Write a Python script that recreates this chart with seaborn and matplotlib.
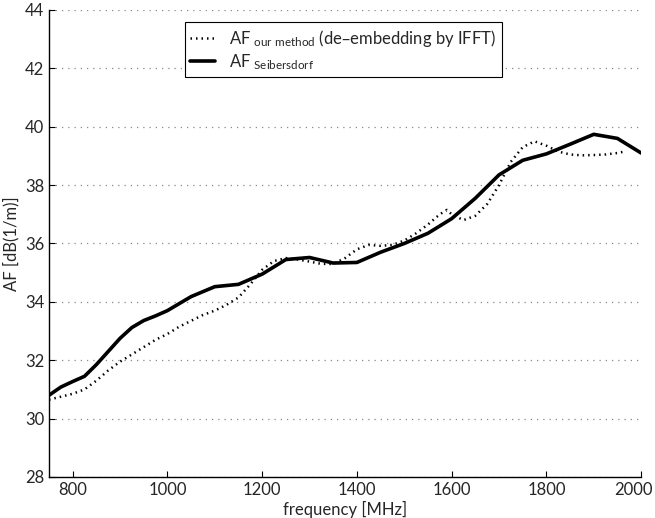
import numpy as np
import pandas as pd
import matplotlib
matplotlib.use('Agg')
import matplotlib.pyplot as plt
import matplotlib.transforms as mtransforms
import seaborn as sns

# data
freq_ifft = [750, 775, 800, 825, 850, 875, 900, 925, 950, 975, 1000, 1025, 1050, 1075,
             1100, 1125, 1150, 1175, 1200, 1225, 1250, 1275, 1300, 1325, 1350, 1375,
             1400, 1425, 1450, 1475, 1500, 1525, 1550, 1575, 1590, 1600, 1625, 1650,
             1675, 1700, 1725, 1750, 1775, 1800, 1825, 1850, 1875, 1900, 1925, 1950, 1965]
af_ifft = [30.65, 30.75, 30.85, 31.0, 31.3, 31.65, 31.95, 32.2, 32.45, 32.7, 32.9, 33.15,
           33.35, 33.55, 33.7, 33.9, 34.15, 34.6, 35.1, 35.4, 35.5, 35.45, 35.38, 35.3,
           35.3, 35.5, 35.8, 35.95, 35.92, 35.95, 36.1, 36.35, 36.65, 37.0, 37.15, 37.0,
           36.8, 36.95, 37.35, 38.0, 38.8, 39.3, 39.5, 39.35, 39.15, 39.05, 39.02, 39.03,
           39.05, 39.1, 39.15]

freq_seib = [750, 775, 800, 825, 850, 875, 900, 925, 950, 975, 1000, 1050, 1100, 1150,
             1200, 1250, 1300, 1350, 1400, 1450, 1500, 1550, 1600, 1650, 1700, 1750,
             1800, 1850, 1900, 1950, 2000]
af_seib = [30.8, 31.08, 31.27, 31.45, 31.85, 32.3, 32.75, 33.12, 33.36, 33.52, 33.7,
           34.18, 34.52, 34.6, 34.95, 35.45, 35.52, 35.33, 35.35, 35.7, 36.0, 36.35,
           36.85, 37.55, 38.35, 38.85, 39.07, 39.4, 39.74, 39.6, 39.1]

y_ticks = [28, 30, 32, 34, 36, 38, 40, 42, 44]
x_ticks = [800, 1000, 1200, 1400, 1600, 1800, 2000]

sns.set_style('white')
plt.rcParams['font.family'] = ['Lato', 'DejaVu Sans']
plt.rcParams['mathtext.default'] = 'regular'

fig = plt.figure(figsize=(6.55, 5.18), dpi=100)
ax = fig.add_axes([0.0748, 0.0792, 0.904, 0.9015])

sns.lineplot(x=freq_ifft, y=af_ifft, ax=ax, color='black', linewidth=1.8,
             linestyle=(0, (0.6, 1.6)),
             label='AF$_{\\ our\\ method}$ (de\u2013embedding by IFFT)')
sns.lineplot(x=freq_seib, y=af_seib, ax=ax, color='black', linewidth=2.6,
             label='AF$_{\\ Seibersdorf}$')

ax.set_xlim(750, 2000)
ax.set_ylim(28, 44)
ax.set_xticks(x_ticks)
ax.set_yticks(y_ticks)
ax.yaxis.grid(True, linestyle=(0, (1, 4)), color='#888888', linewidth=0.9)
ax.xaxis.grid(False)
for s in ['top', 'right']:
    ax.spines[s].set_visible(False)
for s in ['left', 'bottom']:
    ax.spines[s].set_color('black')
    ax.spines[s].set_linewidth(1.0)
ax.tick_params(direction='in', length=4, labelsize=12, color='black', left=True, bottom=True)
ax.set_xlabel('frequency [MHz]', fontsize=12, labelpad=2)
ax.set_ylabel('AF [dB(1/m)]', fontsize=12, labelpad=4)

# keep the last x tick label inside the figure, like the original
last = ax.get_xticklabels()[-1]
last.set_transform(last.get_transform() + mtransforms.ScaledTranslation(-8 / 100, 0, fig.dpi_scale_trans))

leg = ax.legend(loc='upper left', bbox_to_anchor=(0.229, 0.975), fontsize=12,
                frameon=True, fancybox=False, edgecolor='black', framealpha=1,
                handlelength=1.5, borderpad=0.35, labelspacing=0.2, borderaxespad=0)
leg.get_frame().set_linewidth(0.8)

fig.savefig('out.png', dpi=100)
